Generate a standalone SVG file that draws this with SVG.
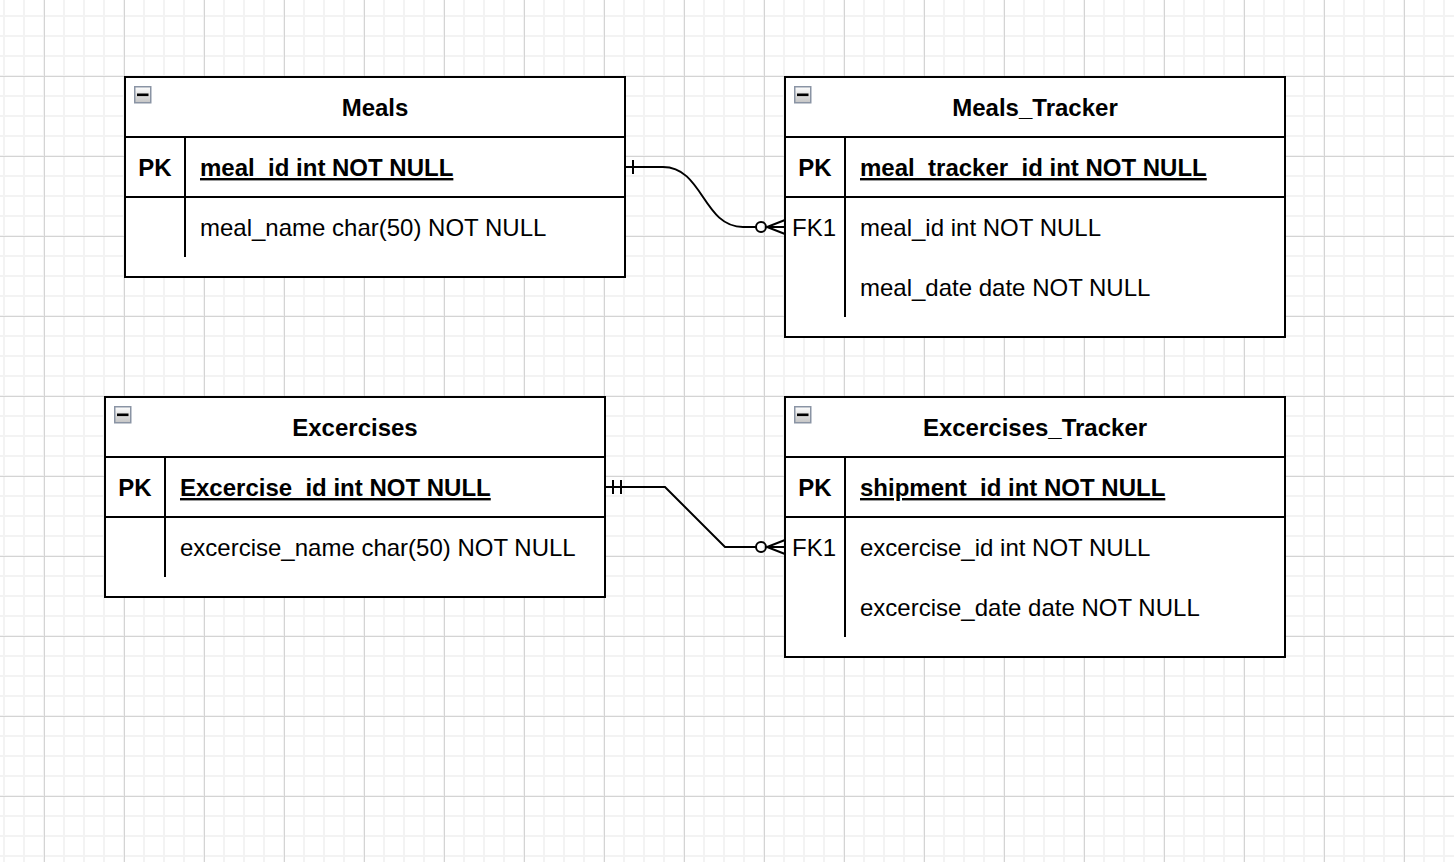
<svg xmlns="http://www.w3.org/2000/svg" width="1454" height="862" viewBox="0 0 1454 862">
<defs>
<pattern id="grid" patternUnits="userSpaceOnUse" x="-6" y="6" width="80" height="80">
<rect x="9" y="0" width="2" height="80" fill="#f3f3f3"/>
<rect x="29" y="0" width="2" height="80" fill="#f3f3f3"/>
<rect x="49" y="0" width="2" height="80" fill="#f3f3f3"/>
<rect x="69" y="0" width="2" height="80" fill="#f3f3f3"/>
<rect x="0" y="9" width="80" height="2" fill="#f3f3f3"/>
<rect x="0" y="29" width="80" height="2" fill="#f3f3f3"/>
<rect x="0" y="49" width="80" height="2" fill="#f3f3f3"/>
<rect x="0" y="69" width="80" height="2" fill="#f3f3f3"/>
<rect x="50" y="0" width="1" height="80" fill="#d4d4d4"/>
<rect x="0" y="70" width="80" height="1" fill="#d4d4d4"/>
</pattern>
<linearGradient id="ig" x1="0" y1="0" x2="0" y2="1">
<stop offset="0" stop-color="#ffffff"/>
<stop offset="1" stop-color="#c4c4c4"/>
</linearGradient>
<g id="icon">
<rect x="0.75" y="0.75" width="16" height="16" fill="url(#ig)" stroke="#8a94a4" stroke-width="1.5"/>
<rect x="3" y="7.5" width="11.5" height="2.6" fill="#000"/>
</g>
</defs>
<style>
.box{fill:#fff;stroke:#000;stroke-width:2}
.ln{stroke:#000;stroke-width:2;fill:none}
.t{font-family:"Liberation Sans",Arial,Helvetica,sans-serif;font-size:24px;fill:#000}
.b{font-weight:bold}
.c{text-anchor:middle}
.u{text-decoration:underline}
.conn{stroke:#000;stroke-width:2;fill:none}
</style>
<rect x="0" y="0" width="1454" height="862" fill="#ffffff"/>
<rect x="0" y="0" width="1454" height="862" fill="url(#grid)"/>

<g id="connectors">
<path class="conn" d="M625 167 H663 C703 167 703 227 743 227 H756"/>
<line class="conn" x1="633" y1="160" x2="633" y2="174"/>
<circle class="conn" cx="761" cy="227" r="5"/>
<path class="conn" d="M785 220 L767 227 L785 234 M767 227 H785"/>

<path class="conn" d="M605 487 H665 L725 547 H756"/>
<line class="conn" x1="613" y1="480" x2="613" y2="494"/>
<line class="conn" x1="621" y1="480" x2="621" y2="494"/>
<circle class="conn" cx="761" cy="547" r="5"/>
<path class="conn" d="M785 540 L767 547 L785 554 M767 547 H785"/>
</g>

<g id="meals">
<rect class="box" x="125" y="77" width="500" height="200"/>
<line class="ln" x1="125" y1="137" x2="625" y2="137"/>
<line class="ln" x1="125" y1="197" x2="625" y2="197"/>
<line class="ln" x1="185" y1="137" x2="185" y2="257"/>
<use href="#icon" x="134" y="86"/>
<text class="t b c" x="375" y="116">Meals</text>
<text class="t b c" x="155" y="176">PK</text>
<text class="t b u" x="200" y="176">meal_id int NOT NULL</text>
<text class="t" x="200" y="236">meal_name char(50) NOT NULL</text>
</g>

<g id="meals_tracker">
<rect class="box" x="785" y="77" width="500" height="260"/>
<line class="ln" x1="785" y1="137" x2="1285" y2="137"/>
<line class="ln" x1="785" y1="197" x2="1285" y2="197"/>
<line class="ln" x1="845" y1="137" x2="845" y2="317"/>
<use href="#icon" x="794" y="86"/>
<text class="t b c" x="1035" y="116">Meals_Tracker</text>
<text class="t b c" x="815" y="176">PK</text>
<text class="t b u" x="860" y="176">meal_tracker_id int NOT NULL</text>
<text class="t c" x="814" y="236">FK1</text>
<text class="t" x="860" y="236">meal_id int NOT NULL</text>
<text class="t" x="860" y="296">meal_date date NOT NULL</text>
</g>

<g id="excercises">
<rect class="box" x="105" y="397" width="500" height="200"/>
<line class="ln" x1="105" y1="457" x2="605" y2="457"/>
<line class="ln" x1="105" y1="517" x2="605" y2="517"/>
<line class="ln" x1="165" y1="457" x2="165" y2="577"/>
<use href="#icon" x="114" y="406"/>
<text class="t b c" x="355" y="436">Excercises</text>
<text class="t b c" x="135" y="496">PK</text>
<text class="t b u" x="180" y="496">Excercise_id int NOT NULL</text>
<text class="t" x="180" y="556">excercise_name char(50) NOT NULL</text>
</g>

<g id="excercises_tracker">
<rect class="box" x="785" y="397" width="500" height="260"/>
<line class="ln" x1="785" y1="457" x2="1285" y2="457"/>
<line class="ln" x1="785" y1="517" x2="1285" y2="517"/>
<line class="ln" x1="845" y1="457" x2="845" y2="637"/>
<use href="#icon" x="794" y="406"/>
<text class="t b c" x="1035" y="436">Excercises_Tracker</text>
<text class="t b c" x="815" y="496">PK</text>
<text class="t b u" x="860" y="496">shipment_id int NOT NULL</text>
<text class="t c" x="814" y="556">FK1</text>
<text class="t" x="860" y="556">excercise_id int NOT NULL</text>
<text class="t" x="860" y="616">excercise_date date NOT NULL</text>
</g>
</svg>
